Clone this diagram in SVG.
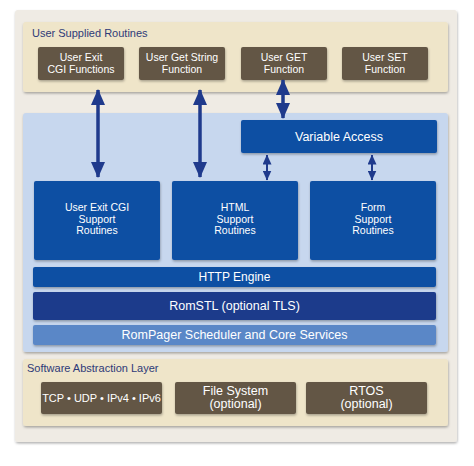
<svg xmlns="http://www.w3.org/2000/svg" width="474" height="466" viewBox="0 0 474 466">
<defs>
<filter id="sh" x="-10%" y="-10%" width="120%" height="130%">
<feDropShadow dx="0.5" dy="1.5" stdDeviation="1" flood-color="#000" flood-opacity="0.3"/>
</filter>
<marker id="ah" viewBox="0 0 16 14" refX="15" refY="7" markerWidth="16" markerHeight="14" markerUnits="userSpaceOnUse" orient="auto-start-reverse">
<path d="M0,0 L16,7 L0,14 Z" fill="#1f3a8c"/>
</marker>
<marker id="as" viewBox="0 0 10 9" refX="9.5" refY="4.5" markerWidth="10" markerHeight="9" markerUnits="userSpaceOnUse" orient="auto-start-reverse">
<path d="M0,0 L10,4.5 L0,9 Z" fill="#1f3a8c"/>
</marker>
</defs>
<style>
text{font-family:"Liberation Sans","DejaVu Sans",Arial,sans-serif;text-anchor:middle;fill:#fff}
.t{font-size:10.5px}
.b{font-size:10.5px}
.h{font-size:12px}
.ttl{font-size:11px;fill:#2e3a78;text-anchor:start}
.brown{fill:#635745}
.blue{fill:#0b4fa3}
.conn line{stroke:#1f3a8c;fill:none}
</style>
<rect x="0" y="0" width="474" height="466" fill="#fff"/>
<g id="outer"><rect x="15" y="10" width="442" height="432" rx="3" fill="#efebe4" filter="url(#sh)"/></g>
<g id="user-supplied">
<rect x="23" y="22" width="425" height="70" rx="3" fill="#efe5c9" filter="url(#sh)"/>
<text class="ttl" x="32" y="37">User Supplied Routines</text>
</g>
<g id="n-userexit"><rect class="brown" x="38" y="47" width="86" height="33" rx="2" filter="url(#sh)"/><text class="t" x="81" y="61">User Exit</text><text class="t" x="81" y="73">CGI Functions</text></g>
<g id="n-getstring"><rect class="brown" x="139" y="47" width="86" height="33" rx="2" filter="url(#sh)"/><text class="t" x="182" y="61">User Get String</text><text class="t" x="182" y="73">Function</text></g>
<g id="n-get"><rect class="brown" x="241" y="47" width="86" height="33" rx="2" filter="url(#sh)"/><text class="t" x="284" y="61">User GET</text><text class="t" x="284" y="73">Function</text></g>
<g id="n-set"><rect class="brown" x="342" y="47" width="86" height="33" rx="2" filter="url(#sh)"/><text class="t" x="385" y="61">User SET</text><text class="t" x="385" y="73">Function</text></g>
<g id="core"><rect x="23" y="113" width="425" height="239" rx="3" fill="#c7d7ee" filter="url(#sh)"/></g>
<g id="n-varaccess"><rect class="blue" x="241" y="120" width="196" height="33" rx="2" filter="url(#sh)"/><text x="339" y="141" style="font-size:12.5px">Variable Access</text></g>
<g id="n-cgisupport"><rect class="blue" x="34" y="181" width="126" height="79" rx="2" filter="url(#sh)"/><text class="b" x="97" y="211">User Exit CGI</text><text class="b" x="97" y="222.5">Support</text><text class="b" x="97" y="234">Routines</text></g>
<g id="n-htmlsupport"><rect class="blue" x="172" y="181" width="126" height="79" rx="2" filter="url(#sh)"/><text class="b" x="235" y="211">HTML</text><text class="b" x="235" y="222.5">Support</text><text class="b" x="235" y="234">Routines</text></g>
<g id="n-formsupport"><rect class="blue" x="310" y="181" width="126" height="79" rx="2" filter="url(#sh)"/><text class="b" x="373" y="211">Form</text><text class="b" x="373" y="222.5">Support</text><text class="b" x="373" y="234">Routines</text></g>
<g id="n-http"><rect class="blue" x="33" y="267" width="403" height="20" rx="2" filter="url(#sh)"/><text class="h" x="234.5" y="281">HTTP Engine</text></g>
<g id="n-romstl"><rect x="33" y="292" width="403" height="28" rx="2" fill="#1c3a8b" filter="url(#sh)"/><text x="234.5" y="310" style="font-size:12.5px">RomSTL (optional TLS)</text></g>
<g id="n-rompager"><rect x="33" y="325" width="403" height="20" rx="2" fill="#5a87c7" filter="url(#sh)"/><text x="234.5" y="339" style="font-size:12.5px">RomPager Scheduler and Core Services</text></g>
<g id="sal">
<rect x="23" y="359" width="425" height="67" rx="3" fill="#efe5c9" filter="url(#sh)"/>
<text class="ttl" x="27" y="372">Software Abstraction Layer</text>
</g>
<g id="n-tcp"><rect class="brown" x="41" y="382" width="121" height="32" rx="2" filter="url(#sh)"/><text x="101.5" y="402" style="font-size:11px">TCP • UDP • IPv4 • IPv6</text></g>
<g id="n-fs"><rect class="brown" x="175" y="382" width="121" height="32" rx="2" filter="url(#sh)"/><text x="235.5" y="395" style="font-size:12.5px">File System</text><text x="235.5" y="408" style="font-size:12.5px">(optional)</text></g>
<g id="n-rtos"><rect class="brown" x="306" y="382" width="121" height="32" rx="2" filter="url(#sh)"/><text x="366.5" y="395" style="font-size:12.5px">RTOS</text><text x="366.5" y="408" style="font-size:12.5px">(optional)</text></g>
<g class="conn" id="connectors">
<line x1="98" y1="90" x2="98" y2="177" stroke-width="3.5" marker-start="url(#ah)" marker-end="url(#ah)"/>
<line x1="200" y1="90" x2="200" y2="177" stroke-width="3.5" marker-start="url(#ah)" marker-end="url(#ah)"/>
<line x1="283" y1="80" x2="283" y2="118" stroke-width="3.5" marker-start="url(#ah)" marker-end="url(#ah)"/>
<line x1="267" y1="155" x2="267" y2="180" stroke-width="2" marker-start="url(#as)" marker-end="url(#as)"/>
<line x1="372" y1="155" x2="372" y2="180" stroke-width="2" marker-start="url(#as)" marker-end="url(#as)"/>
</g>
</svg>
